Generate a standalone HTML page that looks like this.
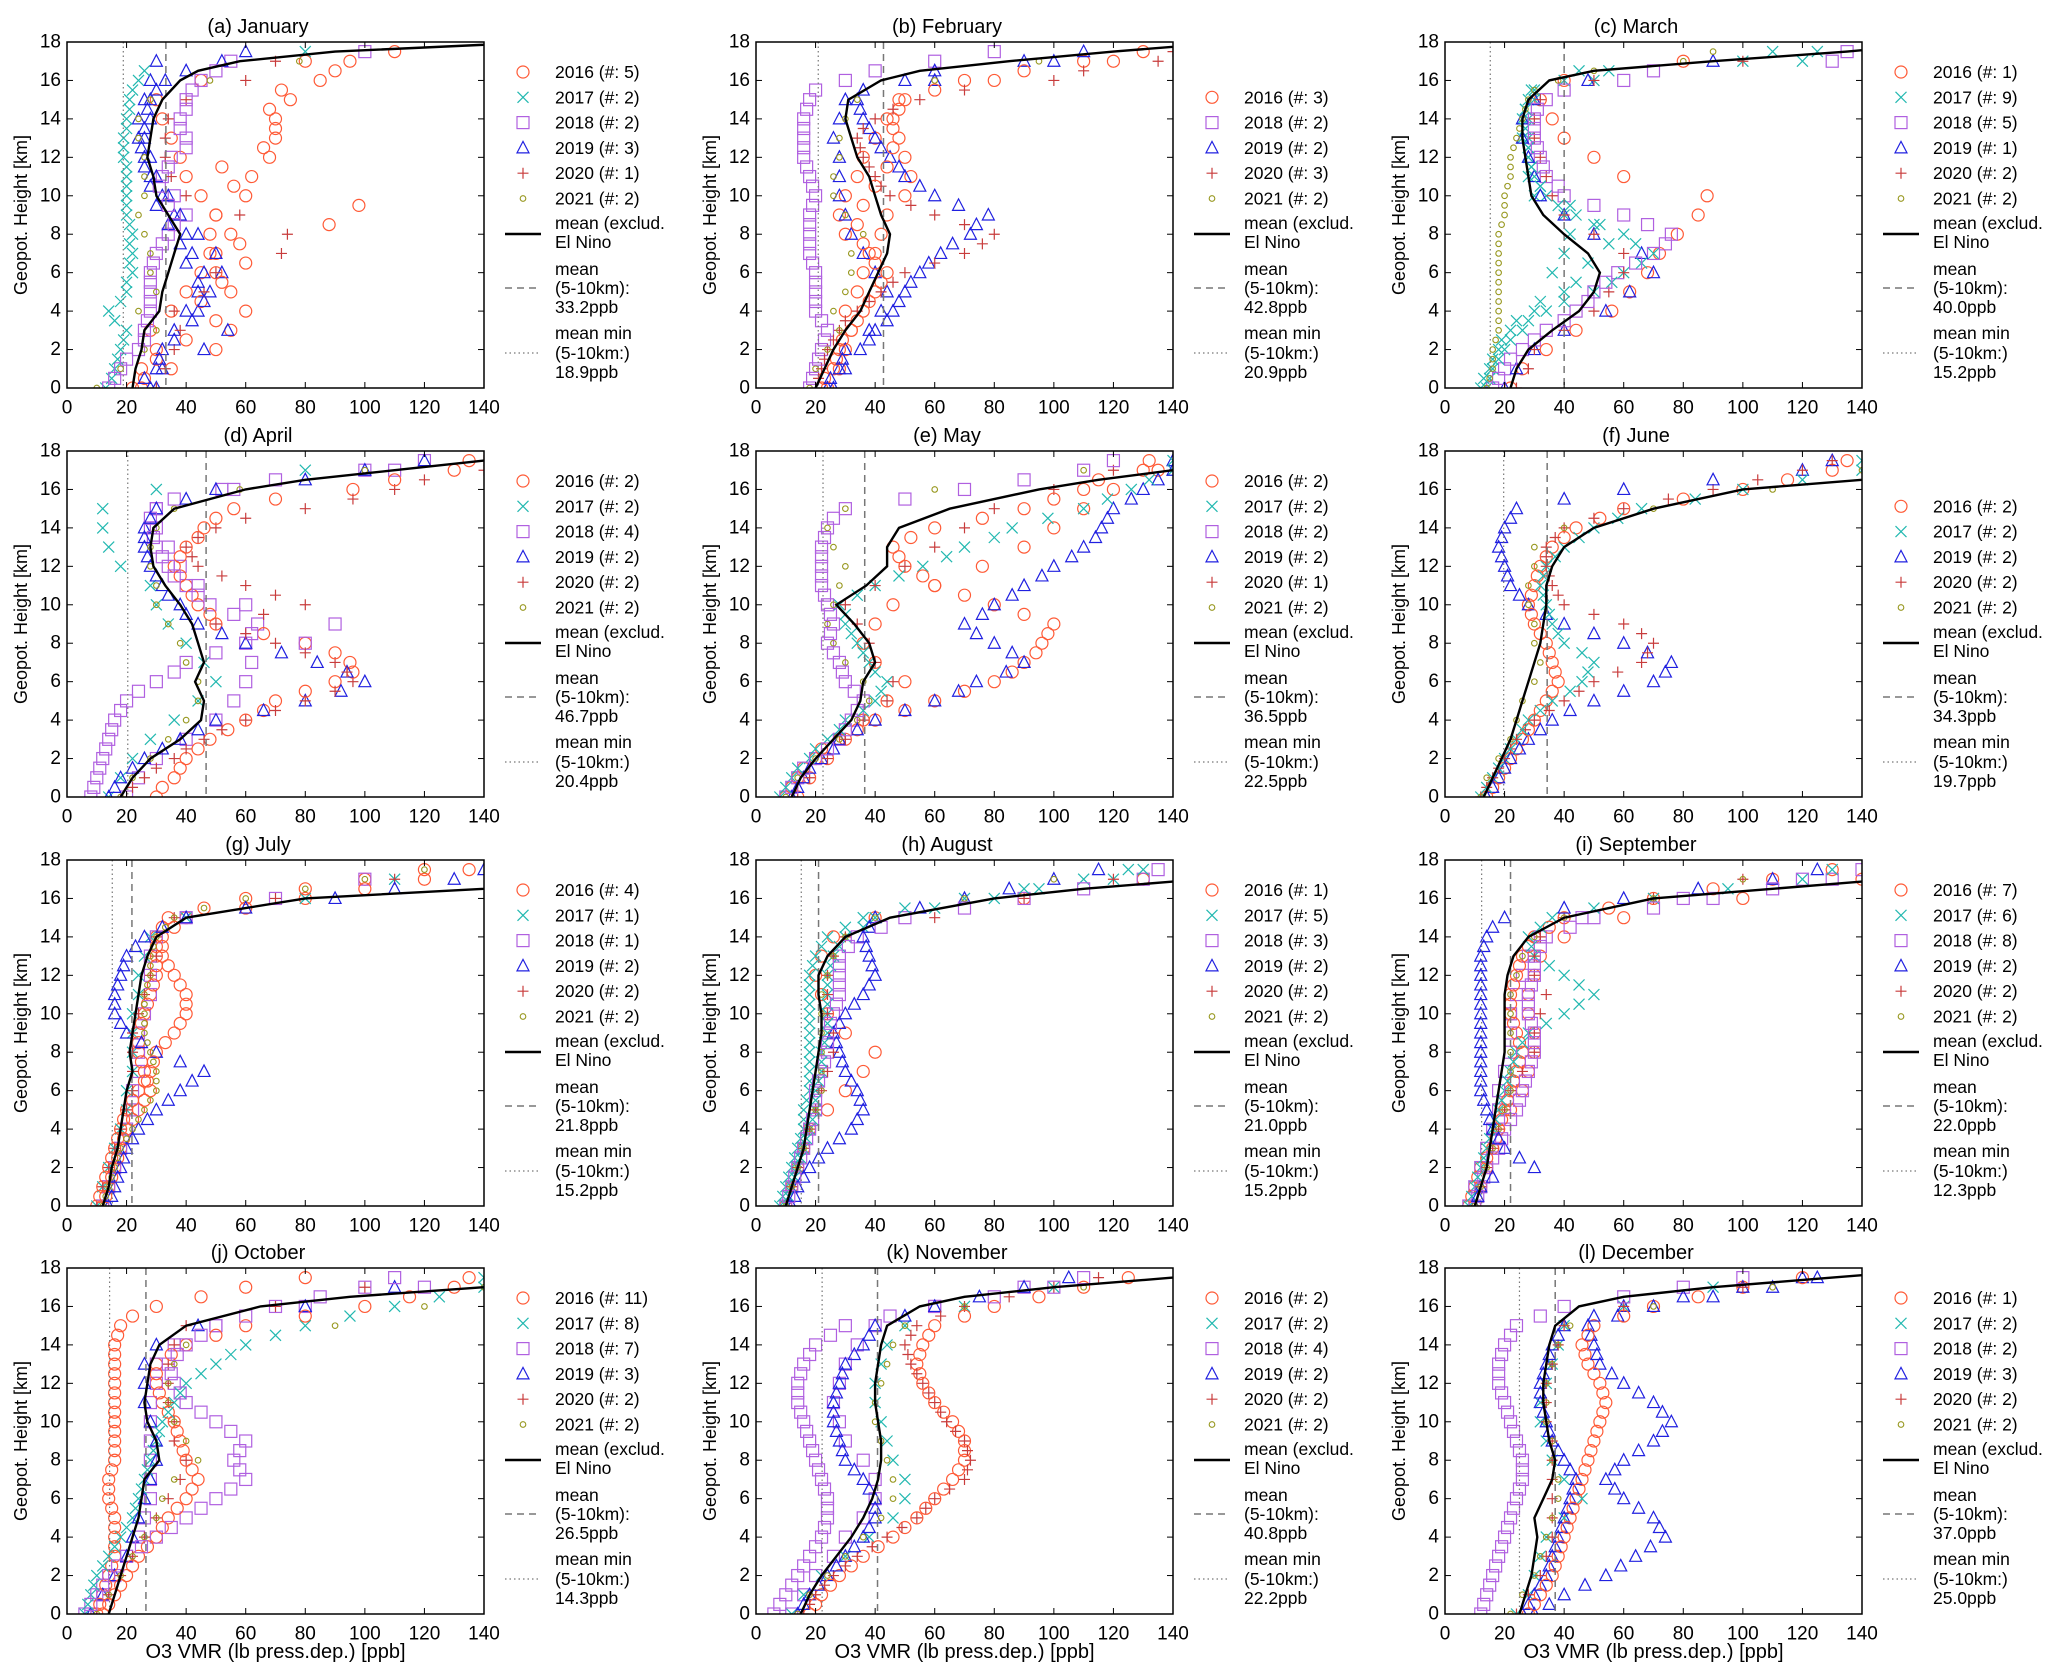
<!DOCTYPE html>
<html><head><meta charset="utf-8"><style>
body{margin:0;background:#fff}
svg{display:block;font-family:"Liberation Sans",sans-serif}
</style></head><body>
<svg id="fig" width="2067" height="1667" viewBox="0 0 2067 1667" xmlns="http://www.w3.org/2000/svg">
<rect width="2067" height="1667" fill="#fff"/>
</svg>
<script>
const months = ["(a)  January","(b)  February","(c)   March","(d)  April","(e)   May","(f)   June","(g)  July","(h)  August","(i)  September","(j)  October","(k)  November","(l)  December"];
const meanHeights = [0,1,2,3,4,5,6,7,8,9,10,11,12,13,14,15,16,16.5,17,17.5,18];
const meanJan=[22,23,25,26,31,32,34,36,38,34,30,29,27,28,29,32,38,44,58,90,160];
const meanFeb=[20,23,26,30,35,38,41,44,45,42,40,38,34,32,30,31,42,55,85,120,160];
const meanMar=[22,24,28,36,45,50,52,48,40,33,29,28,27,26,26,28,35,50,90,135,170];
const meanApr=[18,22,28,38,45,46,43,46,44,42,38,33,29,28,29,36,60,80,110,140,170];
const meanMay=[12,15,20,26,32,35,36,40,38,33,27,37,44,44,48,65,95,115,140,170,200];
const meanJun=[13,16,19,22,24,26,28,30,32,33,34,34,36,40,50,70,100,140,170,200,200];
const meanJul=[12,14,15,17,18,19,20,22,21,22,23,24,25,27,30,40,80,140,170,200,200];
const meanAug=[10,12,14,16,17,18,19,20,21,22,22,21,21,24,30,45,80,110,150,200,200];
const meanSep=[10,12,14,15,16,17,18,19,20,20,20,20,21,23,28,40,70,110,150,200,200];
const meanOct=[14,16,18,20,22,24,25,26,31,30,27,26,27,28,31,40,65,95,140,170,200];
const meanNov=[15,18,22,27,32,36,39,41,42,42,41,40,40,41,42,44,55,70,100,140,170];
const meanDec=[25,27,29,30,31,30,33,36,37,35,34,33,33,34,35,37,45,60,90,130,170];
const meanVals=[meanJan,meanFeb,meanMar,meanApr,meanMay,meanJun,meanJul,meanAug,meanSep,meanOct,meanNov,meanDec];
const dashVals=[33.2,42.8,40.0,46.7,36.5,34.3,21.8,21.0,22.0,26.5,40.8,37.0];
const minVals=[18.9,20.9,15.2,20.4,22.5,19.7,15.2,15.2,12.3,14.3,22.2,25.0];
const yearNames=["2016","2017","2018","2019","2020","2021"];
const countJan=[5,2,2,3,1,2], countFeb=[3,null,2,2,3,2], countMar=[1,9,5,1,2,2], countApr=[2,2,4,2,2,2];
const countMay=[2,2,2,2,1,2], countJun=[2,2,null,2,2,2], countJul=[4,1,1,2,2,2], countAug=[1,5,3,2,2,2];
const countSep=[7,6,8,2,2,2], countOct=[11,8,7,3,2,2], countNov=[2,2,4,2,2,2], countDec=[1,2,2,3,2,2];
const counts=[countJan,countFeb,countMar,countApr,countMay,countJun,countJul,countAug,countSep,countOct,countNov,countDec];
const scatterHeights=[0,1,2,3,4,5,6,7,8,9,10,11,12,13,14,15,16,17];
const halfHeights=[0.5,1.5,2.5,3.5,4.5,5.5,6.5,7.5,8.5,9.5,10.5,11.5,12.5,13.5,14.5,15.5,16.5,17.5];
const scatJan=[[0,[22,25,30,28,35,40,45,50,55,50,60,62,68,70,70,75,85,95]],[0,[25,35,50,55,60,55,50,48,48,50,45,40,38,35,32,30,45,80]],[1,[13,16,18,20,14,20,22,22,22,20,20,20,19,19,20,21,24,null]],[2,[14,18,24,26,28,28,28,30,34,40,36,32,35,40,38,40,45,55]],[3,[28,30,32,36,40,44,46,42,40,38,34,30,28,24,24,26,28,30]],[3,[30,32,46,54,44,48,52,50,44,36,32,28,26,26,28,28,33,52]],[4,[30,33,36,38,36,46,50,72,74,58,40,35,33,33,34,40,60,70]],[5,[10,18,26,30,24,30,28,28,26,24,26,26,26,24,24,28,48,78]]];
const halfJan=[[0,[26,30,40,50,45,52,60,58,88,98,56,52,66,70,68,72,90,110]],[1,[15,17,19,16,18,20,21,21,21,20,20,20,19,20,21,22,26,80]],[3,[26,31,36,42,46,44,40,38,34,30,28,26,25,26,27,30,40,60]],[2,[16,20,26,27,28,28,29,32,36,34,31,34,40,38,40,42,50,100]]];
const scatFeb=[[0,[24,28,30,32,30,34,36,40,42,44,50,52,50,48,46,50,80,120]],[0,[22,26,28,32,36,40,44,38,30,28,30,34,36,40,44,48,70,110]],[2,[18,20,22,24,20,20,20,18,18,18,20,18,16,16,16,18,30,60]],[3,[24,30,35,38,42,50,55,62,72,78,60,50,45,40,36,34,50,90]],[3,[26,28,30,40,46,44,40,36,32,30,28,28,28,26,28,30,60,100]],[4,[20,22,24,28,34,42,50,70,80,60,45,40,36,34,40,55,100,135]],[5,[18,20,24,28,26,30,32,32,36,30,26,26,28,28,30,34,60,95]]];
const halfFeb=[[0,[23,27,29,34,38,42,40,36,34,36,40,44,46,46,48,60,90,130]],[2,[19,21,23,22,20,20,19,18,18,19,19,17,16,16,17,20,40,80]],[3,[25,29,38,44,48,52,58,66,74,68,55,48,42,38,35,36,60,110]],[4,[21,23,26,30,38,46,60,76,70,52,42,38,35,36,46,70,110,140]]];
const scatMar=[[0,[22,26,34,44,56,62,68,72,78,85,88,60,50,40,36,32,40,80]],[1,[12,15,18,22,30,40,36,40,42,44,30,28,28,26,26,28,40,100]],[1,[14,16,20,26,34,50,60,70,60,40,34,30,28,28,28,30,50,120]],[2,[16,20,26,34,44,50,58,70,76,60,40,34,32,30,30,34,60,130]],[3,[20,24,30,40,54,62,70,66,50,40,32,30,28,26,26,30,48,90]],[4,[24,28,30,40,50,55,60,60,50,40,36,34,32,30,30,32,50,100]],[5,[14,16,16,18,18,18,18,18,18,20,20,22,22,24,26,28,38,80]]];
const halfMar=[[1,[13,16,19,24,32,44,48,55,50,42,32,29,28,27,27,29,45,110]],[1,[15,18,22,28,40,56,66,64,52,38,32,29,28,27,27,30,55,125]],[2,[18,22,30,40,48,54,64,74,68,50,38,33,31,30,31,40,70,135]],[5,[15,16,17,18,18,18,18,18,19,20,21,22,23,25,27,30,50,90]]];
const scatApr=[[0,[30,36,40,48,60,70,90,95,80,50,44,40,36,40,46,56,96,130]],[1,[14,18,22,28,36,44,50,46,40,34,30,28,18,14,12,12,30,80]],[2,[8,10,12,14,16,20,30,40,60,64,48,40,34,30,28,30,56,110]],[2,[20,24,30,40,50,56,60,62,80,90,60,44,38,34,30,30,52,100]],[3,[14,18,26,38,50,80,100,84,60,44,38,32,28,26,26,30,50,100]],[4,[20,26,36,46,60,80,96,90,70,50,80,60,44,40,50,80,110,140]],[5,[18,22,28,34,40,44,44,40,38,34,30,30,28,28,30,36,58,100]]];
const halfApr=[[0,[32,38,44,54,66,80,96,90,66,48,42,38,38,44,50,70,110,135]],[2,[9,11,13,15,18,24,36,50,62,56,44,36,32,29,28,36,70,120]],[3,[16,22,32,44,66,92,94,72,52,40,34,30,27,26,28,40,80,120]],[4,[22,30,40,52,70,90,94,80,60,66,70,52,42,44,60,96,120,140]]];
const scatMay=[[0,[10,14,20,28,40,60,80,90,96,100,80,60,50,46,60,90,110,130]],[0,[14,18,24,30,36,44,50,40,36,40,46,60,76,90,100,110,120,135]],[1,[8,12,18,24,30,40,44,38,34,30,28,40,56,70,86,110,126,140]],[2,[10,14,20,28,32,36,30,28,24,26,24,22,22,22,24,30,70,110]],[3,[12,16,22,28,40,60,74,90,80,70,80,90,100,110,116,120,130,140]],[4,[14,18,24,30,36,44,46,40,38,34,30,40,50,60,70,80,100,120]],[5,[10,14,20,28,34,38,36,30,26,24,26,28,30,26,24,30,60,110]]];
const halfMay=[[0,[12,16,22,34,50,70,86,94,98,90,70,56,48,52,76,100,115,132]],[3,[14,18,26,34,50,68,84,86,74,76,86,96,106,114,118,126,135,140]],[2,[12,16,24,30,34,33,29,26,25,25,23,22,22,23,26,50,90,120]],[1,[10,14,20,28,36,42,40,36,32,30,34,48,64,80,98,118,132,140]]];
const scatJun=[[0,[14,18,22,26,30,34,38,36,34,30,28,30,32,36,44,60,100,130]],[1,[12,16,20,24,28,36,46,50,40,36,34,32,34,40,50,66,100,140]],[3,[14,18,22,28,36,50,70,76,60,40,28,22,20,18,20,24,60,120]],[4,[12,16,20,24,30,40,50,66,70,60,40,36,34,34,40,60,90,120]],[5,[12,14,18,22,24,26,30,32,30,30,28,28,30,30,40,70,110,140]]];
const halfJun=[[0,[16,20,24,28,32,36,37,35,32,29,29,31,34,40,52,80,115,135]],[3,[16,20,25,32,42,60,74,68,50,34,25,21,19,19,22,40,90,130]],[4,[14,18,22,27,35,45,58,68,66,50,38,35,34,37,50,75,105,130]],[1,[14,18,22,26,32,42,48,46,38,35,33,33,37,45,58,84,120,140]]];
const scatJul=[[0,[10,12,14,16,18,20,24,28,30,36,40,40,36,32,32,40,80,120]],[0,[12,14,16,18,20,24,28,26,24,24,26,28,30,30,30,34,60,100]],[1,[10,12,14,16,18,20,20,22,22,22,22,24,24,26,28,40,80,110]],[2,[12,14,16,18,20,22,22,24,24,24,26,28,28,28,30,40,70,100]],[3,[14,16,18,20,24,30,38,46,30,20,16,16,18,20,26,40,90,130]],[4,[10,12,14,16,18,20,22,22,22,22,24,26,28,30,30,36,70,110]],[5,[12,14,16,18,22,26,30,30,28,26,26,26,28,28,30,36,60,100]]];
const halfJul=[[0,[11,13,15,17,19,22,26,29,33,38,40,38,34,32,36,60,100,135]],[0,[13,15,17,19,22,26,27,25,24,25,27,29,30,30,32,46,80,120]],[3,[15,17,19,22,27,34,42,38,25,18,16,17,19,23,32,60,110,140]],[5,[13,15,17,20,24,28,30,29,27,26,26,27,28,29,33,46,80,120]]];
const scatAug=[[0,[10,12,14,16,18,24,30,36,40,30,24,22,20,22,26,40,90,130]],[1,[8,10,12,14,16,16,18,18,18,18,18,18,18,20,24,36,70,120]],[1,[10,12,14,16,18,20,20,22,22,24,24,24,24,26,30,40,80,110]],[2,[10,12,14,16,18,20,20,22,24,24,26,28,28,28,34,50,90,130]],[3,[12,14,18,24,32,36,34,30,28,26,30,36,40,38,36,40,70,100]],[4,[10,12,14,16,18,20,22,24,26,26,24,24,24,26,30,60,90,120]],[5,[10,12,14,16,18,20,22,22,22,22,22,22,24,26,30,40,70,100]]];
const halfAug=[[1,[9,11,13,15,16,17,18,18,18,18,18,18,19,22,30,50,90,125]],[1,[11,13,15,17,19,20,21,22,23,24,24,24,25,28,36,60,95,130]],[3,[13,16,21,28,34,35,32,29,27,28,33,38,39,37,38,55,85,115]],[2,[11,13,15,17,19,20,21,23,24,25,27,28,28,31,42,70,110,135]]];
const scatSep=[[0,[8,10,12,16,18,20,22,24,26,24,22,22,24,26,30,40,70,110]],[0,[10,12,14,16,18,22,26,28,30,30,28,28,30,32,40,60,100,140]],[1,[8,10,12,14,16,18,20,22,24,28,40,50,40,30,28,36,70,120]],[2,[10,12,14,18,20,24,26,28,30,30,28,28,30,30,34,50,90,130]],[2,[8,10,12,14,16,18,18,20,22,22,22,24,26,28,32,46,80,120]],[3,[10,12,30,20,16,14,12,12,12,12,12,12,12,12,14,20,60,110]],[4,[10,12,14,16,18,20,22,26,30,30,32,34,30,30,32,40,70,100]],[5,[10,12,14,16,18,20,22,22,22,22,22,22,24,26,30,40,70,100]]];
const halfSep=[[0,[9,11,14,17,19,21,23,25,25,23,22,23,25,28,35,55,90,130]],[2,[11,13,16,19,22,25,27,29,30,29,28,29,30,32,42,70,110,140]],[1,[9,11,13,15,17,19,21,23,26,34,45,45,35,29,32,50,95,130]],[3,[11,16,25,18,15,13,12,12,12,12,12,12,12,13,16,40,85,125]]];
const scatOct=[[0,[10,12,14,16,16,16,14,14,16,16,16,16,16,16,16,18,30,60]],[0,[12,16,20,24,30,34,40,44,40,38,36,32,30,30,40,60,100,130]],[1,[6,8,10,14,18,22,24,26,28,30,32,36,40,50,60,80,110,140]],[2,[6,10,14,20,30,40,50,60,56,60,50,40,36,34,40,50,70,100]],[2,[8,12,16,20,24,26,28,28,28,28,28,28,30,30,36,50,80,120]],[3,[8,12,16,20,22,24,26,28,30,30,28,26,26,26,30,44,80,110]],[4,[10,14,18,22,26,30,34,38,40,36,36,34,34,34,36,40,70,100]],[5,[10,14,18,22,26,30,32,36,44,40,36,34,34,36,40,90,120,140]]];
const halfOct=[[0,[11,13,15,16,16,15,14,15,16,16,16,16,16,16,17,22,45,80]],[0,[14,18,22,27,32,37,42,42,39,37,34,31,30,35,50,80,115,135]],[2,[8,12,17,25,35,45,55,58,58,55,45,38,35,37,45,60,85,110]],[1,[7,9,12,16,20,23,25,27,29,31,34,38,45,55,70,95,125,140]]];
const scatNov=[[0,[18,22,28,36,46,54,60,66,70,70,66,60,56,54,56,60,80,110]],[1,[12,16,22,30,38,46,50,50,46,44,42,40,40,42,44,50,70,100]],[2,[6,10,14,18,22,24,24,22,20,18,16,14,14,16,20,30,60,100]],[2,[12,16,20,26,30,36,40,40,36,30,28,26,28,30,34,40,60,90]],[3,[14,18,24,30,36,40,40,36,30,28,26,26,28,30,36,40,60,90]],[4,[16,20,26,34,44,54,60,70,72,70,64,60,56,52,50,54,70,100]],[5,[14,18,24,30,36,42,46,46,44,42,40,40,42,44,46,50,70,110]]];
const halfNov=[[0,[20,25,32,41,50,57,63,68,70,68,63,58,55,55,58,70,95,125]],[2,[8,12,16,20,23,24,23,21,19,17,15,14,15,18,25,45,80,110]],[3,[16,21,27,33,38,40,38,33,29,27,26,27,29,33,38,50,75,105]],[4,[18,23,30,39,49,57,65,71,71,67,62,58,54,51,52,62,85,115]]];
const scatDec=[[0,[28,32,36,38,40,42,44,46,48,50,52,54,52,48,46,50,70,100]],[1,[24,28,30,32,34,40,46,40,36,34,32,32,34,36,38,40,60,90]],[2,[12,14,16,18,20,22,24,26,26,24,22,20,18,18,20,24,40,80]],[3,[30,40,54,64,74,70,60,54,60,70,76,70,60,52,50,48,70,110]],[3,[26,30,34,36,38,40,42,44,40,36,34,32,32,34,36,40,60,100]],[4,[24,28,32,34,36,36,36,36,36,36,34,34,34,36,38,40,60,100]],[5,[22,26,30,32,34,36,38,38,36,36,34,34,34,36,38,42,70,110]]];
const halfDec=[[3,[35,47,59,69,72,65,57,57,65,73,73,65,56,51,49,58,90,125]],[2,[13,15,17,19,21,23,25,26,25,23,21,19,18,19,22,32,60,100]],[3,[28,32,35,37,39,41,43,42,38,35,33,32,33,35,38,50,80,120]],[0,[30,34,37,39,41,43,45,47,49,51,53,53,50,47,48,60,85,120]]];
const scatters=[scatJan,scatFeb,scatMar,scatApr,scatMay,scatJun,scatJul,scatAug,scatSep,scatOct,scatNov,scatDec];
const halfScatters=[halfJan,halfFeb,halfMar,halfApr,halfMay,halfJun,halfJul,halfAug,halfSep,halfOct,halfNov,halfDec];
const xTicks=[0,20,40,60,80,100,120,140];
const yTicks=[0,2,4,6,8,10,12,14,16,18];

const NS="http://www.w3.org/2000/svg";
const svg=document.getElementById("fig");
const colLeft=[67,756,1445], rowTop=[42,451,860,1268], PW=417, PH=346;
const colors=["#ff5a36","#22b8b0","#b060e0","#2020e0","#c83c3c","#989820"];
function mk(tag,attrs,parent){const e=document.createElementNS(NS,tag);for(const k in attrs)e.setAttribute(k,attrs[k]);(parent||svg).appendChild(e);return e;}
function marker(g,yi,cx,cy){
  const c=colors[yi];let m;
  if(yi===0){m=mk("circle",{cx:cx,cy:cy,r:6,fill:"none",stroke:c,"stroke-width":1.2},g);}
  else if(yi===1){m=mk("path",{d:`M${cx-5.5} ${cy-5.5}L${cx+5.5} ${cy+5.5}M${cx-5.5} ${cy+5.5}L${cx+5.5} ${cy-5.5}`,stroke:c,"stroke-width":1.2,fill:"none"},g);}
  else if(yi===2){m=mk("rect",{x:cx-6,y:cy-6,width:12,height:12,fill:"none",stroke:c,"stroke-width":1.2},g);}
  else if(yi===3){m=mk("path",{d:`M${cx} ${cy-6.5}L${cx+6} ${cy+5}L${cx-6} ${cy+5}Z`,fill:"none",stroke:c,"stroke-width":1.2},g);}
  else if(yi===4){m=mk("path",{d:`M${cx-5.5} ${cy}L${cx+5.5} ${cy}M${cx} ${cy-5.5}L${cx} ${cy+5.5}`,stroke:c,"stroke-width":1.2,fill:"none"},g);}
  else {m=mk("circle",{cx:cx,cy:cy,r:2.8,fill:"none",stroke:c,"stroke-width":1.1},g);}
  return m;
}
function txt(g,x,y,s,size,anchor,extra){const t=mk("text",Object.assign({x:x,y:y,"font-size":size,"text-anchor":anchor||"start","dominant-baseline":"central",fill:"#000"},extra||{}),g);t.setAttribute("xml:space","preserve");t.textContent=s;return t;}

for(let p=0;p<12;p++){
  const L=colLeft[p%3], T=rowTop[Math.floor(p/3)];
  const xs=v=>L+v/140*PW, ys=h=>T+PH-h/18*PH;
  const g=mk("g",{});
  
  
  const cp=mk("clipPath",{id:"cp"+p},g);mk("rect",{x:L,y:T,width:PW,height:PH},cp);
  const pg=mk("g",{"clip-path":"url(#cp"+p+")"},g);
  const drawSet=(set,hs)=>set.forEach(pr=>{const yi=pr[0];pr[1].forEach((v,i)=>{if(v==null)return;const m=marker(pg,yi,xs(v),ys(hs[i]));
    
    });});
  drawSet(scatters[p],scatterHeights);
  drawSet(halfScatters[p],halfHeights);
  const dl=mk("line",{x1:xs(dashVals[p]),x2:xs(dashVals[p]),y1:T,y2:T+PH,stroke:"#777","stroke-width":1.5,"stroke-dasharray":"7,5"},pg);
  
  
  const ml=mk("line",{x1:xs(minVals[p]),x2:xs(minVals[p]),y1:T,y2:T+PH,stroke:"#777","stroke-width":1.2,"stroke-dasharray":"1.5,3"},pg);
  
  
  const d=meanVals[p].map((v,i)=>(i?"L":"M")+xs(v).toFixed(1)+" "+ys(meanHeights[i]).toFixed(1)).join("");
  const mp=mk("path",{d:d,fill:"none",stroke:"#000","stroke-width":2.4},pg);
  
  
  const fr=mk("rect",{x:L,y:T,width:PW,height:PH,fill:"none",stroke:"#000","stroke-width":1.5},g);
  
  
  xTicks.forEach(v=>{const x=xs(v);
    mk("line",{x1:x,x2:x,y1:T+PH,y2:T+PH-6,stroke:"#000"},g);mk("line",{x1:x,x2:x,y1:T,y2:T+6,stroke:"#000"},g);
    const t=txt(g,x,T+PH+20,String(v),19,"middle");
    
    });
  yTicks.forEach(v=>{const y=ys(v);
    mk("line",{x1:L,x2:L+6,y1:y,y2:y,stroke:"#000"},g);mk("line",{x1:L+PW,x2:L+PW-6,y1:y,y2:y,stroke:"#000"},g);
    const t=txt(g,L-6,y,String(v),19,"end");
    
    });
  const ti=txt(g,L+191,T-15,months[p],20,"middle");
  
  
  const yl=txt(g,0,0,"Geopot. Height [km]",18,"middle",{transform:`translate(${L-46},${T+PH/2}) rotate(-90)`});
  
  
  if(p>=9){const xl=txt(g,L+PW/2,1652,"O3 VMR (lb press.dep.) [ppb]",20,"middle");
    
    }
  const lg=mk("g",{},g);
  
  
  const present=[];counts[p].forEach((c,i)=>{if(c!=null)present.push(i);});
  const off=6-present.length;
  present.forEach((yi,k)=>{const y=T+30+25.3*(k+off);
    const m=marker(lg,yi,L+456,y);
    
    
    const t=txt(lg,L+488,y,yearNames[yi]+" (#: "+counts[p][yi]+")",17.5);
    
    });
  mk("line",{x1:L+438,x2:L+474,y1:T+192,y2:T+192,stroke:"#000","stroke-width":2.4},lg);
  txt(lg,L+488,T+181,"mean (exclud.",17.5);txt(lg,L+488,T+200,"El Nino",17.5);
  mk("line",{x1:L+438,x2:L+474,y1:T+246,y2:T+246,stroke:"#777","stroke-width":1.5,"stroke-dasharray":"7,5"},lg);
  txt(lg,L+488,T+227,"mean",17.5);txt(lg,L+488,T+246,"(5-10km):",17.5);txt(lg,L+488,T+265,dashVals[p].toFixed(1)+"ppb",17.5);
  mk("line",{x1:L+438,x2:L+474,y1:T+311,y2:T+311,stroke:"#777","stroke-width":1.2,"stroke-dasharray":"1.5,3"},lg);
  txt(lg,L+488,T+291,"mean min",17.5);txt(lg,L+488,T+311," (5-10km:)",17.5);txt(lg,L+488,T+330,minVals[p].toFixed(1)+"ppb",17.5);
}
</script>
</body></html>
